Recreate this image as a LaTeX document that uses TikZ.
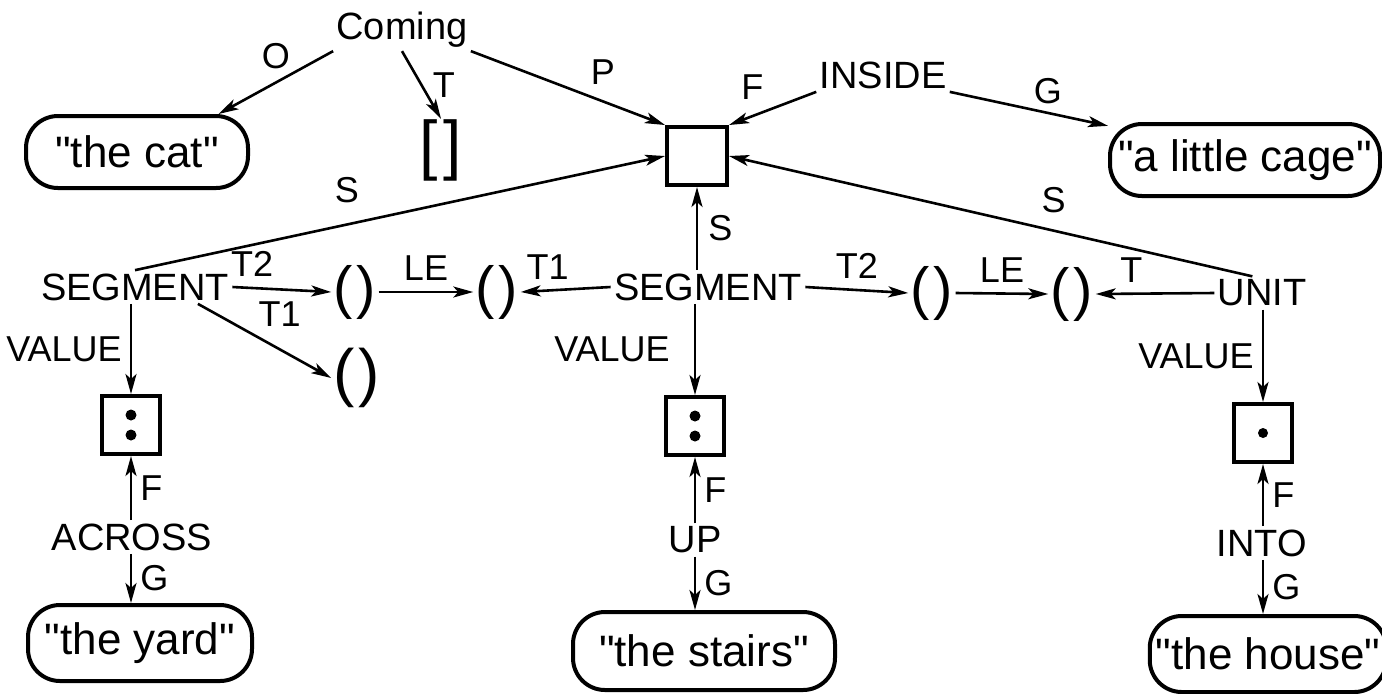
\documentclass[tikz,border=0pt]{standalone}
\usepackage{fontspec}
\setmainfont{Liberation Sans}[Ligatures=TeXOff]
\usetikzlibrary{arrows.meta}
\begin{document}
\begin{tikzpicture}[x=0.5pt,y=-0.5pt,
  every node/.style={inner sep=1.5pt},
  lbl/.style={font=\fontsize{19}{22}\selectfont},
  elbl/.style={font=\fontsize{18}{21}\selectfont, inner sep=2pt},
  term/.style={draw, line width=2pt, rounded corners=16pt, minimum height=36pt, font=\fontsize{22}{26}\selectfont, inner sep=3pt},
  paren/.style={font=\fontsize{29}{31}\selectfont, inner sep=1pt},
  sqbox/.style={draw, line width=2pt, minimum width=30pt, minimum height=29pt, inner sep=0pt},
  dbox/.style={draw, line width=2pt, minimum width=29pt, minimum height=29pt, inner sep=0pt},
  arr/.style={-{Stealth[length=10pt,width=5.5pt,inset=2.5pt]}, line width=1.3pt}]
\useasboundingbox (0,0) rectangle (1382,693);

% top row
\node[lbl] (coming) at (402,30) {Coming};
\node[term, minimum width=111pt] (cat) at (137,152) {"the cat"};
\node[font=\fontsize{33}{35}\selectfont, inner sep=0pt] (brk) at (441,150) {[\hspace{3pt}]};
\node[sqbox] (sq) at (697,156) {};
\node[lbl] (inside) at (883,75) {INSIDE};
\node[term, minimum width=135pt] (cage) at (1245,160) {"a little cage"};

% middle row
\node[lbl] (segL) at (135,287) {SEGMENT};
\node[paren] (pA) at (355,292) {(\hspace{2pt})};
\node[paren] (pB) at (497,292) {(\hspace{2pt})};
\node[lbl] (segC) at (708,287) {SEGMENT};
\node[paren] (pC) at (932,293) {(\hspace{2pt})};
\node[paren] (pD) at (1072,294) {(\hspace{2pt})};
\node[lbl] (unit) at (1262,293) {UNIT};
\node[paren, font=\fontsize{32}{34}\selectfont] (pE) at (357,378) {(\hspace{2pt})};

% value boxes
\node[dbox] (boxL) at (131,425) {};
\node[dbox] (boxC) at (695,426) {};
\node[dbox] (boxR) at (1263,433) {};
\fill (boxL.center) ++(0,-10) circle (5.5);
\fill (boxL.center) ++(0,10) circle (5.5);
\fill (boxC.center) ++(0,-10) circle (5.5);
\fill (boxC.center) ++(0,10) circle (5.5);
\fill (boxR.center) circle (5);

% bottom row
\node[lbl] (across) at (132,537) {ACROSS};
\node[lbl] (up) at (695,540) {UP};
\node[lbl] (into) at (1262,543) {INTO};
\node[term, minimum width=112pt, minimum height=38pt] (yard) at (140,643) {"the yard"};
\node[term, minimum width=131pt, minimum height=39pt] (stairs) at (704,651) {"the stairs"};
\node[term, minimum width=113pt, minimum height=38pt] (house) at (1268,654) {"the house"};

% connectors top
\draw[arr] (coming.south west) -- (cat.25) node[elbl, midway, above=4pt] {O};
\draw[arr] (coming.south) -- (brk.north) node[elbl, midway, right=3pt] {T};
\draw[arr] (coming.south east) -- (sq.north west) node[elbl, pos=0.68, above=6pt] {P};
\draw[arr] (inside.south west) -- (sq.north east) node[elbl, midway, above left=2pt] {F};
\draw[arr] (inside.south east) -- (cage.166) node[elbl, pos=0.62, above=2pt] {G};

% S connectors
\draw[arr] (segL.north) -- (sq.west) node[elbl, pos=0.4, above=8pt] {S};
\draw[arr] (sq.south |- segC.north) -- (sq.south) node[elbl, midway, right=3pt] {S};
\draw[arr] (unit.120) -- (sq.east) node[elbl, pos=0.38, above=6pt] {S};

% horizontal
\draw[arr] (segL.east) -- (pA.west) node[elbl, pos=0.2, above=3pt] {T2};
\draw[arr] (pA.east) -- (pB.west) node[elbl, midway, above=3pt] {LE};
\draw[arr] (segC.west) -- (pB.east) node[elbl, pos=0.7, above=3pt] {T1};
\draw[arr] (segL.-15) -- (pE.west) node[elbl, pos=0.4, above right=1pt] {T1};
\draw[arr] (segC.east) -- (pC.west) node[elbl, midway, above=3pt] {T2};
\draw[arr] (pC.east) -- (pD.west) node[elbl, midway, above=3pt] {LE};
\draw[arr] (unit.west) -- (pD.east) node[elbl, pos=0.7, above=3pt] {T};

% values
\draw[arr] (boxL.north |- segL.south) -- (boxL.north) node[elbl, midway, left=2pt] {VALUE};
\draw[arr] (boxC.north |- segC.south) -- (boxC.north) node[elbl, midway, left=10pt] {VALUE};
\draw[arr] (boxR.north |- unit.south) -- (boxR.north) node[elbl, midway, left=2pt] {VALUE};

% F and G
\draw[arr] (boxL.south |- across.north) -- (boxL.south) node[elbl, midway, right=2pt] {F};
\draw[arr] (boxC.south |- up.north) -- (boxC.south) node[elbl, midway, right=2pt] {F};
\draw[arr] (boxR.south |- into.north) -- (boxR.south) node[elbl, midway, right=2pt] {F};
\draw[arr] (boxL.south |- across.south) -- (boxL.south |- yard.north) node[elbl, midway, right=2pt] {G};
\draw[arr] (boxC.south |- up.south) -- (boxC.south |- stairs.north) node[elbl, midway, right=2pt] {G};
\draw[arr] (boxR.south |- into.south) -- (boxR.south |- house.north) node[elbl, midway, right=2pt] {G};
\end{tikzpicture}
\end{document}
